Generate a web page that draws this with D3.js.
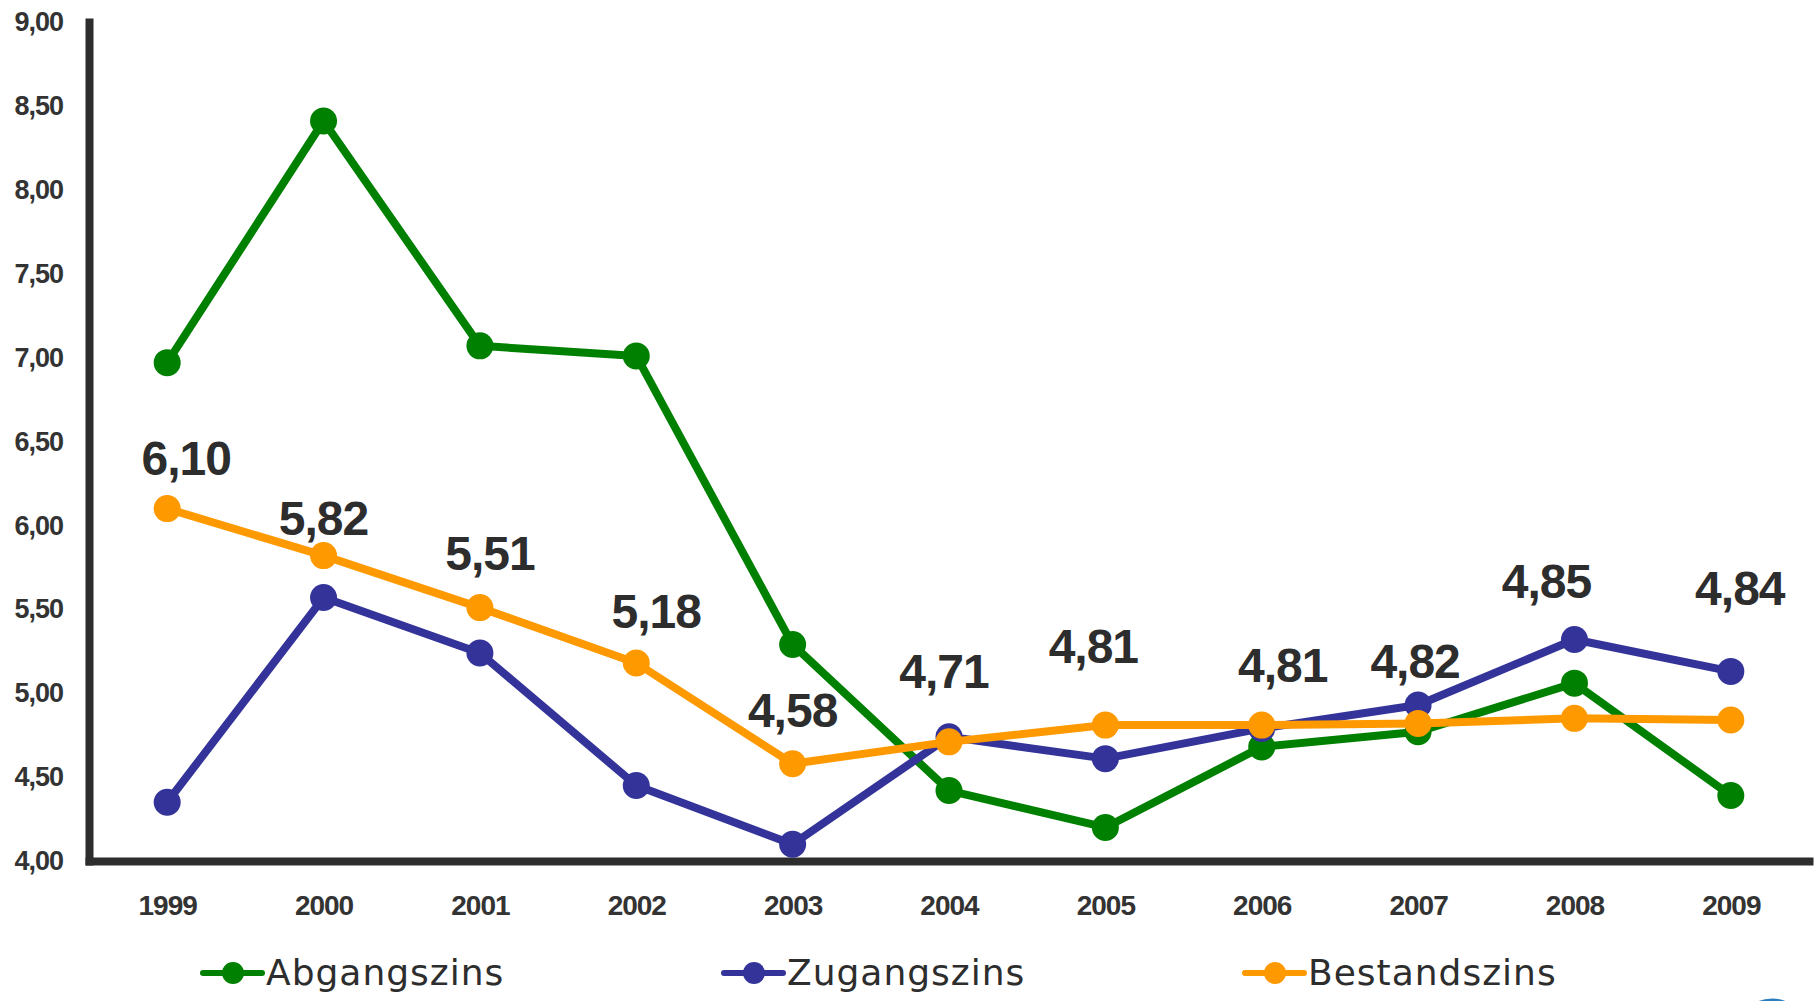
<!DOCTYPE html>
<html>
<head>
<meta charset="utf-8">
<title>Zinsen 1999-2009</title>
<script src="https://cdn.jsdelivr.net/npm/d3@7"></script>
<style>
    body { margin: 0; background: #fff; }
    svg { display: block; }
    .axis text { font-family: "Liberation Sans", Arial, sans-serif; font-weight: bold; fill: #333; letter-spacing: -1px; }
    .value-label { font-family: "Liberation Sans", Arial, sans-serif; font-weight: bold; font-size: 48px; fill: #2d2d2d; letter-spacing: -1px; }
    .legend text { font-family: "DejaVu Sans", sans-serif; font-size: 36px; fill: #2d2d2d; letter-spacing: 1px; }
</style>
</head>
<body>
<svg id="chart" width="1814" height="1001"></svg>
<script>
// data
const years = ['1999', '2000', '2001', '2002', '2003', '2004', '2005', '2006', '2007', '2008', '2009'];
const abgangszins = [6.97, 8.41, 7.07, 7.01, 5.29, 4.42, 4.20, 4.68, 4.77, 5.06, 4.39];
const zugangszins = [4.35, 5.57, 5.24, 4.45, 4.10, 4.74, 4.61, 4.79, 4.93, 5.32, 5.13];
const bestandszins = [6.10, 5.82, 5.51, 5.18, 4.58, 4.71, 4.81, 4.81, 4.82, 4.85, 4.84];
const yTicks = [4, 4.5, 5, 5.5, 6, 6.5, 7, 7.5, 8, 8.5, 9];
const seriesNames = ['Abgangszins', 'Zugangszins', 'Bestandszins'];
const seriesColors = ['#008000', '#333399', '#ff9900'];

// hand placed label nudges (px) from the original, relative to the Bestandszins point
const labelNudges = [[19, -34], [0, -21], [10, -38], [20, -35], [0, -37], [-5, -54],
    [-12, -62], [21, -43], [-3, -45], [-28, -120], [9, -115]];

document.addEventListener('DOMContentLoaded', () => {
    const svg = d3.select('#chart');

    const x = d3.scalePoint()
        .domain(years)
        .range([89, 1809])
        .padding(0.5);

    const y = d3.scaleLinear()
        .domain([4, 9])
        .range([861, 22]);

    const commaFormat = d => d3.format('.2f')(d).replace('.', ',');

    // y axis
    const yAxis = svg.append('g')
        .attr('class', 'axis')
        .attr('transform', 'translate(89,0)')
        .call(d3.axisLeft(y).tickValues(yTicks).tickSize(0).tickPadding(26).tickFormat(commaFormat));
    yAxis.selectAll('text').style('font-size', '27px');

    // x axis
    const xAxis = svg.append('g')
        .attr('class', 'axis')
        .attr('transform', 'translate(0,861)')
        .call(d3.axisBottom(x).tickSize(0).tickPadding(34));
    xAxis.selectAll('text').style('font-size', '28px');

    svg.selectAll('.axis .domain')
        .attr('stroke', '#2d2d2d')
        .attr('stroke-width', 8)
        .attr('stroke-linecap', 'square');

    const series = [abgangszins, zugangszins, bestandszins];

    const line = d3.line()
        .x((d, i) => x(years[i]))
        .y(d => y(d));

    series.forEach((values, s) => {
        const g = svg.append('g').attr('class', 'series');
        g.append('path')
            .datum(values)
            .attr('fill', 'none')
            .attr('stroke', seriesColors[s])
            .attr('stroke-width', 8)
            .attr('stroke-linejoin', 'round')
            .attr('d', line);
        g.selectAll('circle')
            .data(values)
            .enter()
            .append('circle')
            .attr('cx', (d, i) => x(years[i]))
            .attr('cy', d => y(d))
            .attr('r', 13.5)
            .attr('fill', seriesColors[s]);
    });

    // value labels for Bestandszins
    svg.selectAll('.value-label')
        .data(bestandszins)
        .enter()
        .append('text')
        .attr('class', 'value-label')
        .attr('text-anchor', 'middle')
        .attr('x', (d, i) => x(years[i]) + labelNudges[i][0])
        .attr('y', (d, i) => y(d) + labelNudges[i][1])
        .text(d => commaFormat(d));

    // legend
    const legend = svg.append('g')
        .attr('class', 'legend')
        .attr('transform', 'translate(203,973)');

    seriesNames.forEach((name, i) => {
        const item = legend.append('g').attr('transform', `translate(${i * 521},0)`);
        item.append('line')
            .attr('x1', 0).attr('x2', 59)
            .attr('y1', 0).attr('y2', 0)
            .attr('stroke', seriesColors[i])
            .attr('stroke-width', 6)
            .attr('stroke-linecap', 'round');
        item.append('circle')
            .attr('cx', 30)
            .attr('cy', 0)
            .attr('r', 11)
            .attr('fill', seriesColors[i]);
        item.append('text')
            .attr('x', 63)
            .attr('y', 12)
            .text(name);
    });

    // bit of a logo peeking in at the bottom right
    svg.append('ellipse')
        .attr('cx', 1772)
        .attr('cy', 1030)
        .attr('rx', 32)
        .attr('ry', 30)
        .attr('fill', 'none')
        .attr('stroke', '#2a7fc0')
        .attr('stroke-width', 3);
});
</script>
</body>
</html>
